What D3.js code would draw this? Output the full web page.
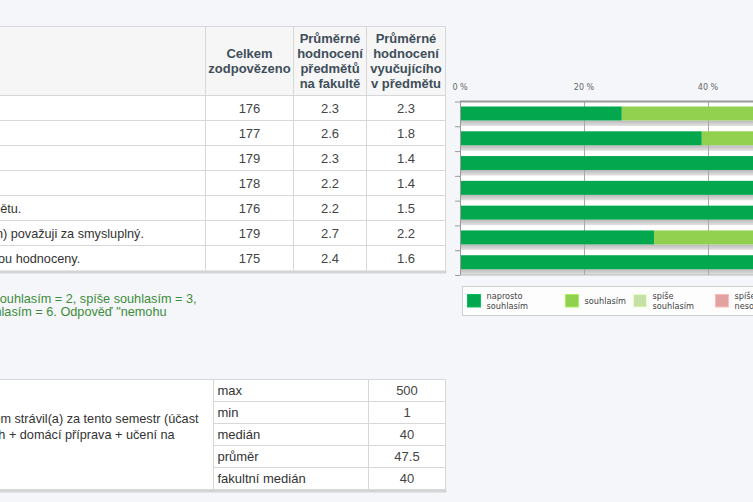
<!DOCTYPE html>
<html lang="cs">
<head>
<meta charset="utf-8">
<script src="https://cdn.jsdelivr.net/npm/d3@7"></script>
<style>
  html, body { margin: 0; padding: 0; background: #f4f6f9; overflow: hidden; }
  svg { display: block; }
</style>
</head>
<body>
<script>
// ---------------- DATA ----------------
const questions = [
  "Předmět mě zaujal.",
  "Výuka byla srozumitelná.",
  "Vyučující byl(a) připraven(a).",
  "Vyučující byl(a) vstřícný(á).",
  "Látka odpovídala cílům předmětu.",
  "Předmět (tak, jak byl vyučován) považuji za smysluplný.",
  "Je mi jasné, jak mé znalosti jsou hodnoceny."
];
const headerLabels = [
  ["Celkem", "zodpovězeno"],
  ["Průměrné", "hodnocení", "předmětů", "na fakultě"],
  ["Průměrné", "hodnocení", "vyučujícího", "v předmětu"]
];
const answered   = [176, 177, 179, 178, 176, 179, 175];
const facultyAvg = ["2.3", "2.6", "2.3", "2.2", "2.2", "2.7", "2.4"];
const teacherAvg = ["2.3", "1.8", "1.4", "1.4", "1.5", "2.2", "1.6"];

const answerCats = ["naprosto souhlasím", "souhlasím", "spíše souhlasím",
                    "spíše nesouhlasím", "nesouhlasím", "naprosto nesouhlasím"];
const answerColors = ["#03a84e", "#92d14f", "#c6e0a6", "#e3a1a1", "#d9605a", "#b3302c"];
// percentage of answers per category (one array per category, one value per question)
const pctNaprosto     = [26.1, 39.0, 68, 67, 61, 31.3, 55];
const pctSouhlasim    = [35, 45, 26, 27, 30, 32, 33];
const pctSpiseSouhl   = [23, 11, 4, 4, 6, 22, 8];
const pctSpiseNesouhl = [10, 3, 1, 1, 2, 9, 2];
const pctNesouhlasim  = [4, 1, 1, 1, 1, 4, 1];
const pctNaprNesouhl  = [1.9, 1, 0, 0, 0, 1.7, 1];
const pctTicks = [0, 20, 40, 60, 80, 100];

const noteLines = [
  "Hodnocení odpovědí na otázky: naprosto souhlasím = 1, souhlasím = 2, spíše souhlasím = 3,",
  "spíše nesouhlasím = 4, nesouhlasím = 5, naprosto nesouhlasím = 6. Odpověď \"nemohu",
  "posoudit\" nebyla do průměru započítána."
];

const timeQuestionLines = [
  "Kolik hodin jste s předmětem strávil(a) za tento semestr (účast",
  "na přednáškách a cvičeních + domácí příprava + učení na",
  "zkoušku)?"
];
const statLabels = ["max", "min", "medián", "průměr", "fakultní medián"];
const statValues = ["500", "1", "40", "47.5", "40"];

// ---------------- LAYOUT ----------------
const W = 753, H = 502;
const FONT = "'Liberation Sans', Arial, sans-serif";
const CHART_FONT = "'DejaVu Sans', Verdana, sans-serif";
const qFont = "12.7px " + FONT;

const svg = d3.select("body").append("svg").attr("width", W).attr("height", H);
svg.append("rect").attr("width", W).attr("height", H).attr("fill", "#f4f6f9");

function textWidth(str, font) {
  const t = svg.append("text").attr("x", -9999).attr("y", -9999)
    .style("font", font).text(str);
  const w = t.node().getComputedTextLength();
  t.remove();
  return w;
}
// Left edge of a left-aligned (page-cropped) text block: the part of each line
// before `cut[i]` should end near x = at[i] (where the crop edge of the page falls).
function fitStart(lines, cut, at, font) {
  return d3.mean(cut, (c, i) => {
    const line = lines[i];
    const prefix = line.slice(0, line.lastIndexOf(c));
    return at[i] - textWidth(prefix, font);
  });
}

// ---------- Table 1 ----------
const t1 = { top: 26.5, headBottom: 95.5, bottom: 270.5, cols: [205.5, 293.5, 366.5, 445.5] };
const qStart = fitStart([questions[4], questions[5], questions[6]],
                        ["ětu.", "n) považuji", "ou hodnoceny."], [-0.5, -5, -0.5], qFont);
const t1Left = qStart - 7;
const rowY = d3.scaleBand().domain(questions).range([t1.headBottom, t1.bottom]);
const t1g = svg.append("g");

t1g.append("rect").attr("x", t1Left).attr("y", t1.top)
  .attr("width", t1.cols[3] - t1Left).attr("height", t1.headBottom - t1.top).attr("fill", "#f6f6f6");
t1g.selectAll("rect.row").data(questions).join("rect").attr("class", "row")
  .attr("x", t1Left).attr("y", d => rowY(d))
  .attr("width", t1.cols[3] - t1Left).attr("height", rowY.bandwidth()).attr("fill", "#ffffff");
t1g.append("rect").attr("x", t1Left).attr("y", t1.bottom)
  .attr("width", t1.cols[3] - t1Left + 1).attr("height", 3).attr("fill", "#d2d4d6");
const hLines1 = [t1.top].concat(questions.map(q => rowY(q)));
t1g.selectAll("line.h").data(hLines1).join("line").attr("class", "h")
  .attr("x1", t1Left).attr("x2", t1.cols[3]).attr("y1", d => d).attr("y2", d => d)
  .attr("stroke", "#d5d7d9");
t1g.selectAll("line.v").data(t1.cols).join("line").attr("class", "v")
  .attr("x1", d => d).attr("x2", d => d).attr("y1", t1.top).attr("y2", t1.bottom)
  .attr("stroke", "#d5d7d9");

const colCenters = [0, 1, 2].map(i => (t1.cols[i] + t1.cols[i + 1]) / 2);
const headCenter = (t1.top + t1.headBottom) / 2;
headerLabels.forEach((lines, i) => {
  const lh = 15;
  const first = headCenter - (lines.length - 1) * lh / 2;
  const tx = t1g.append("text").attr("text-anchor", "middle")
    .style("font", "bold 13px " + FONT).attr("fill", "#3f4e59");
  lines.forEach((l, j) => {
    tx.append("tspan").attr("x", colCenters[i]).attr("y", first + j * lh + 4.5).text(l);
  });
});

t1g.selectAll("text.q").data(questions).join("text").attr("class", "q")
  .attr("x", qStart).attr("y", d => rowY(d) + rowY.bandwidth() / 2 + 4.5)
  .style("font", qFont).attr("fill", "#333").text(d => d);

[answered, facultyAvg, teacherAvg].forEach((arr, i) => {
  t1g.selectAll("text.c" + i).data(arr).join("text").attr("class", "c" + i)
    .attr("x", colCenters[i])
    .attr("y", (d, k) => rowY(questions[k]) + rowY.bandwidth() / 2 + 4.5)
    .attr("text-anchor", "middle").style("font", "13px " + FONT).attr("fill", "#444")
    .text(d => d);
});

// ---------- Note ----------
const noteStart = fitStart(noteLines.slice(0, 2), ["ouhlasím = 2", "lasím = 6"], [0.5, 0.8], qFont);
svg.append("g").selectAll("text").data(noteLines).join("text")
  .attr("x", noteStart).attr("y", (d, i) => 302.8 + i * 13.6)
  .style("font", qFont).attr("fill", "#3d8c3a").text(d => d);

// ---------- Table 2 ----------
const t2 = { top: 379.5, bottom: 489.5, cols: [213.5, 368.5, 445.5] };
const tqStart = fitStart(timeQuestionLines.slice(0, 2), ["em strávil", "+ domácí"], [-2.5, 1.2], qFont);
const t2Left = tqStart - 5;
const statY = d3.scaleBand().domain(statLabels).range([t2.top, t2.bottom]);
const t2g = svg.append("g");
t2g.append("rect").attr("x", t2Left).attr("y", t2.top)
  .attr("width", t2.cols[2] - t2Left).attr("height", t2.bottom - t2.top).attr("fill", "#fff");
t2g.append("rect").attr("x", t2Left).attr("y", t2.bottom)
  .attr("width", t2.cols[2] - t2Left + 1).attr("height", 3).attr("fill", "#d2d4d6");
t2g.append("line").attr("x1", t2Left).attr("x2", t2.cols[2]).attr("y1", t2.top).attr("y2", t2.top).attr("stroke", "#d5d7d9");
t2g.selectAll("line.h").data(statLabels.slice(1)).join("line").attr("class", "h")
  .attr("x1", t2.cols[0]).attr("x2", t2.cols[2]).attr("y1", d => statY(d)).attr("y2", d => statY(d))
  .attr("stroke", "#d5d7d9");
t2g.append("line").attr("x1", t2Left).attr("x2", t2.cols[2]).attr("y1", t2.bottom).attr("y2", t2.bottom).attr("stroke", "#d5d7d9");
t2g.selectAll("line.v").data(t2.cols).join("line").attr("class", "v")
  .attr("x1", d => d).attr("x2", d => d).attr("y1", t2.top).attr("y2", t2.bottom).attr("stroke", "#d5d7d9");
const tqCenter = (t2.top + t2.bottom) / 2;
t2g.selectAll("text.tq").data(timeQuestionLines).join("text").attr("class", "tq")
  .attr("x", tqStart)
  .attr("y", (d, i) => tqCenter + (i - (timeQuestionLines.length - 1) / 2) * 15.7 + 4.5)
  .style("font", qFont).attr("fill", "#333").text(d => d);
t2g.selectAll("text.sl").data(statLabels).join("text").attr("class", "sl")
  .attr("x", t2.cols[0] + 4).attr("y", d => statY(d) + statY.bandwidth() / 2 + 4.5)
  .style("font", "13px " + FONT).attr("fill", "#333").text(d => d);
t2g.selectAll("text.sv").data(statValues).join("text").attr("class", "sv")
  .attr("x", (t2.cols[1] + t2.cols[2]) / 2)
  .attr("y", (d, i) => statY(statLabels[i]) + statY.bandwidth() / 2 + 4.5)
  .attr("text-anchor", "middle").style("font", "13px " + FONT).attr("fill", "#444").text(d => d);

// ---------- Stacked bar chart ----------
const series = [pctNaprosto, pctSouhlasim, pctSpiseSouhl, pctSpiseNesouhl, pctNesouhlasim, pctNaprNesouhl];
const rows = questions.map((q, i) => {
  const o = { q };
  answerCats.forEach((c, j) => { o[c] = series[j][i]; });
  return o;
});
const stacked = d3.stack().keys(answerCats)(rows);

const x = d3.scaleLinear().domain([0, 100]).range([460, 1080]);
const y = d3.scaleBand().domain(questions).range([101.5, 275]);
const color = d3.scaleOrdinal().domain(answerCats).range(answerColors);
const cg = svg.append("g");

const defs = svg.append("defs");
const grad = defs.append("linearGradient").attr("id", "shadow").attr("x1", 0).attr("x2", 0).attr("y1", 0).attr("y2", 1);
grad.append("stop").attr("offset", "0%").attr("stop-color", "#b9b9b9");
grad.append("stop").attr("offset", "100%").attr("stop-color", "#e2e2e2");

cg.append("rect").attr("x", x(0)).attr("y", y.range()[0])
  .attr("width", x(100) - x(0)).attr("height", y.range()[1] - y.range()[0]).attr("fill", "#ffffff");
cg.selectAll("rect.sh").data(questions).join("rect").attr("class", "sh")
  .attr("x", x(0)).attr("y", d => y(d) + 19)
  .attr("width", x(100) - x(0)).attr("height", 5.5).attr("fill", "url(#shadow)");
cg.selectAll("line.grid").data(pctTicks.slice(1)).join("line").attr("class", "grid")
  .attr("x1", d => x(d) + 0.5).attr("x2", d => x(d) + 0.5)
  .attr("y1", y.range()[0]).attr("y2", y.range()[1]).attr("stroke", "#a8a8a8");
cg.selectAll("g.layer").data(stacked).join("g").attr("class", "layer")
  .attr("fill", d => color(d.key))
  .selectAll("rect").data(d => d).join("rect")
  .attr("x", d => x(d[0])).attr("y", d => y(d.data.q) + 5)
  .attr("width", d => x(d[1]) - x(d[0])).attr("height", 14);
cg.append("line").attr("x1", x(0)).attr("x2", W).attr("y1", y.range()[0]).attr("y2", y.range()[0])
  .attr("stroke", "#9a9a9a").attr("stroke-width", 2);
cg.append("line").attr("x1", x(0)).attr("x2", W).attr("y1", y.range()[1]).attr("y2", y.range()[1])
  .attr("stroke", "#b5b5b5");
cg.append("line").attr("x1", x(0) + 0.5).attr("x2", x(0) + 0.5).attr("y1", y.range()[0]).attr("y2", y.range()[1])
  .attr("stroke", "#9a9a9a");
const tickYs = questions.map(q => y(q)).concat([y.range()[1]]);
cg.selectAll("line.yt").data(tickYs).join("line").attr("class", "yt")
  .attr("x1", x(0) - 5).attr("x2", x(0)).attr("y1", d => d + 0.5).attr("y2", d => d + 0.5)
  .attr("stroke", "#9a9a9a");
cg.selectAll("text.xt").data(pctTicks).join("text").attr("class", "xt")
  .attr("x", d => x(d)).attr("y", 89.5).attr("text-anchor", "middle")
  .style("font", "8px " + CHART_FONT).attr("fill", "#666").text(d => d + " %");

// legend
const legendX = [467, 565, 633, 715, 800, 880];
const legendLines = [["naprosto", "souhlasím"], ["souhlasím"], ["spíše", "souhlasím"],
                     ["spíše", "nesouhlasím"], ["nesouhlasím"], ["naprosto", "nesouhlasím"]];
const lg = svg.append("g");
lg.append("rect").attr("x", 462.5).attr("y", 286.5).attr("width", 500).attr("height", 29)
  .attr("fill", "#fdfdfd").attr("stroke", "#cfcfcf");
answerCats.forEach((c, i) => {
  lg.append("rect").attr("x", legendX[i] + 0.5).attr("y", 294.5).attr("width", 13).attr("height", 12.5)
    .attr("fill", color(c)).attr("stroke", d3.color(color(c)).brighter(0.4)).attr("stroke-width", 1);
  const lines = legendLines[i];
  const tx = lg.append("text").style("font", "8.2px " + CHART_FONT).attr("fill", "#444");
  lines.forEach((l, j) => {
    const cy = lines.length === 1 ? 300.7 : 296 + j * 9.7;
    tx.append("tspan").attr("x", legendX[i] + 19.5).attr("y", cy + 3).text(l);
  });
});
</script>
</body>
</html>
